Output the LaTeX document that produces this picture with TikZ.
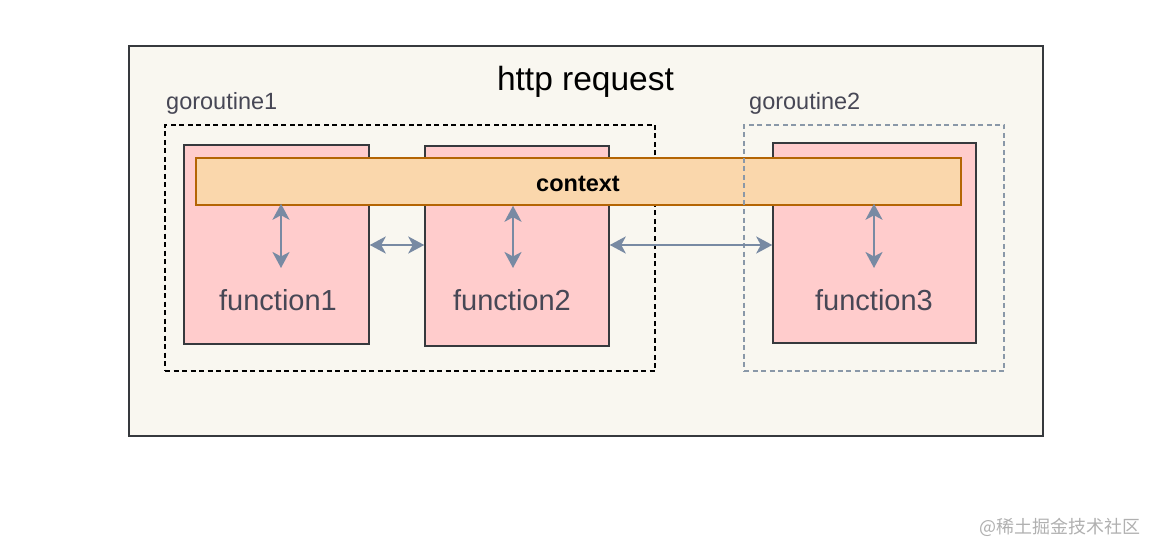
\documentclass[tikz,border=0pt]{standalone}
\usepackage{fontspec}
\setmainfont{Liberation Sans}
\newfontfamily\cjkfont{Noto Sans CJK SC}
\usetikzlibrary{arrows.meta}
\definecolor{bgfill}{HTML}{F9F7F0}
\definecolor{edgegray}{HTML}{36393D}
\definecolor{pinkfill}{HTML}{FFCCCC}
\definecolor{ctxfill}{HTML}{FAD7AC}
\definecolor{ctxedge}{HTML}{B46504}
\definecolor{arrowblue}{HTML}{788AA3}
\definecolor{labelgray}{HTML}{474755}
\definecolor{dashgray}{HTML}{8A98A8}
\definecolor{wmgray}{HTML}{B0B0B0}
\tikzset{
  outerbox/.style={draw=edgegray, fill=bgfill, line width=1.5pt, inner sep=0pt, minimum width=914pt, minimum height=390pt},
  grpone/.style={draw=black, dash pattern=on 5pt off 3.5pt, line width=1.5pt, inner sep=0pt},
  grptwo/.style={draw=dashgray, dash pattern=on 5pt off 3.5pt, line width=1.5pt, inner sep=0pt},
  funcbox/.style={draw=edgegray, fill=pinkfill, line width=1.5pt, inner sep=0pt},
  ctxbar/.style={draw=ctxedge, fill=ctxfill, line width=1.5pt, inner sep=0pt, minimum width=765pt, minimum height=47pt},
  grplabel/.style={text=labelgray, font=\fontsize{23.5}{26}\selectfont, inner sep=0pt, anchor=west},
  funclabel/.style={text=labelgray, font=\fontsize{29}{32}\selectfont, inner sep=0pt},
  tip/.style={Stealth[length=16pt,width=17pt,inset=4.5pt]},
  arr/.style={draw=arrowblue, line width=2.5pt, {Stealth[length=16pt,width=17pt,inset=4.5pt]}-{Stealth[length=16pt,width=17pt,inset=4.5pt]}}
}
\begin{document}
\begin{tikzpicture}[x=1pt,y=-1pt]
\useasboundingbox (0,0) rectangle (1158,556);
% outer http request box
\node[outerbox] (outer) at (586,241) {};
\node[font=\fontsize{33.5}{36}\selectfont, inner sep=0pt] (title) at (585.5,82) {http request};
% goroutine 1
\node[grplabel] (g1l) at (166,103) {goroutine1};
\node[grpone, minimum width=490pt, minimum height=246pt] (g1) at (410,248) {};
% function boxes
\node[funcbox, minimum width=185pt, minimum height=199pt] (f1) at (276.5,244.5) {};
\node[funcbox, minimum width=184pt, minimum height=200pt] (f2) at (517,246) {};
\node[funcbox, minimum width=203pt, minimum height=200pt] (f3) at (874.5,243) {};
\node[funclabel] (f1t) at (278,300) {function1};
\node[funclabel] (f2t) at (512,300) {function2};
\node[funclabel] (f3t) at (874,300) {function3};
% context bar
\node[ctxbar] (ctx) at (578.5,181.5) {};
\node[font=\fontsize{23.5}{26}\selectfont\bfseries, inner sep=0pt] (ctxt) at (578,184) {context};
% goroutine 2
\node[grplabel] (g2l) at (749,103) {goroutine2};
\node[grptwo, minimum width=260pt, minimum height=246pt] (g2) at (874,248) {};
% arrows
\coordinate (a1) at (281,268);
\coordinate (a2) at (513,268);
\coordinate (a3) at (874,268);
\coordinate (ha) at (0,245);
\coordinate (hb) at (0,245);
\draw[arr] ([yshift=2pt]ctx.south -| a1) -- (a1);
\draw[arr] (ctx.south -| a2) -- (a2);
\draw[arr] ([yshift=2pt]ctx.south -| a3) -- (a3);
\draw[arr] (f1.east |- ha) -- (f2.west |- ha);
\draw[arr] (f2.east |- hb) -- (f3.west |- hb);
% watermark
\node[text=wmgray, font=\cjkfont\fontsize{18}{20}\selectfont, inner sep=0pt, anchor=east] (wm) at (1141,527) {@稀土掘金技术社区};
\end{tikzpicture}
\end{document}
